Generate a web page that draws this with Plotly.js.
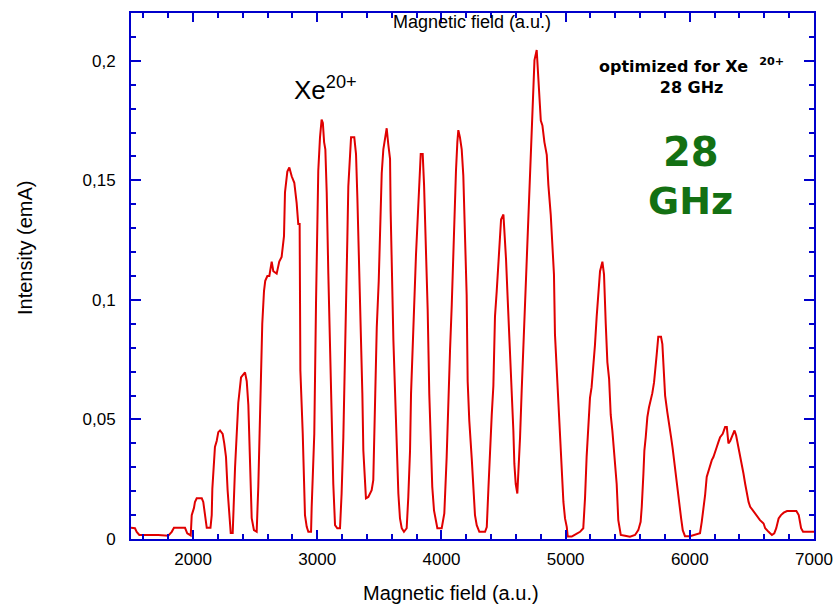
<!DOCTYPE html>
<html>
<head>
<meta charset="utf-8">
<script src="https://cdn.plot.ly/plotly-3.0.1.min.js"></script>
<style>html,body{margin:0;padding:0;background:#fff;}#chart{width:833px;height:613px;}</style>
</head>
<body>
<div id="chart"></div>
<script>
// Magnetic field (a.u.)
var field = [
 1500,1519,1532,1546,1567,1720,1800,1828,1846,1935,1953,1981,1989,2007,2015,2029,2070,2082,2096,2110,
 2140,2150,2155,2168,2176,2190,2203,2217,2238,2251,2265,2278,2291,2303,2319,2324,2338,2364,2378,2386,
 2418,2432,2445,2458,2472,2490,2512,2525,2539,2547,2557,2571,2581,2598,2614,2633,2646,2673,2694,2713,
 2732,2740,2759,2775,2794,2815,2834,2847,2858,2864,2883,2901,2915,2928,2950,2955,2976,2990,3000,3008,
 3022,3035,3045,3055,3065,3076,3089,3103,3116,3129,3143,3161,3183,3196,3210,3223,3231,3242,3250,3264,
 3272,3298,3312,3323,3339,3352,3363,3371,3384,3392,3411,3438,3451,3459,3470,3479,3495,3505,3519,3532,
 3545,3559,3572,3586,3591,3602,3613,3626,3640,3653,3666,3680,3698,3720,3733,3747,3755,3768,3779,3795,
 3814,3822,3833,3849,3860,3873,3889,3902,3913,3926,3940,3956,3967,4002,4023,4042,4055,4069,4083,4096,
 4109,4117,4128,4136,4149,4163,4176,4190,4203,4211,4224,4244,4257,4270,4284,4305,4351,4365,4378,4391,
 4405,4418,4423,4431,4445,4458,4472,4480,4499,4507,4520,4534,4547,4560,4571,4579,4587,4598,4611,4619,
 4633,4646,4660,4668,4679,4695,4706,4719,4733,4741,4749,4767,4775,4786,4800,4813,4829,4848,4861,4880,
 4894,4906,4914,4928,4941,4955,4968,4982,4995,5009,5017,5049,5062,5116,5142,5156,5169,5182,5196,5209,
 5223,5236,5250,5263,5277,5296,5309,5323,5336,5350,5363,5376,5392,5411,5424,5444,5478,5518,5559,5585,
 5604,5613,5626,5634,5645,5658,5671,5685,5698,5712,5720,5733,5746,5768,5779,5787,5801,5819,5836,5849,
 5862,5876,5889,5903,5916,5930,5943,5961,6001,6042,6082,6096,6109,6123,6136,6150,6163,6177,6190,6203,
 6217,6230,6244,6265,6284,6298,6311,6325,6346,6360,6373,6386,6405,6419,6432,6446,6459,6473,6486,6513,
 6540,6565,6594,6607,6634,6661,6680,6696,6715,6734,6756,6783,6858,6877,6896,6912,7000
];
// Intensity (emA)
var intensity = [
 0.0047,0.0047,0.0045,0.003,0.0017,0.0017,0.0014,0.003,0.0047,0.0047,0.0024,0.0015,0.010,0.013,0.0155,0.017,0.017,0.0155,0.010,0.0047,
 0.0047,0.0100,0.021,0.0296,0.0385,0.041,0.0447,0.0454,0.044,0.040,0.0343,0.0204,0.0108,0.0025,0.0025,0.010,0.030,0.057,0.0635,0.0676,
 0.0697,0.066,0.056,0.037,0.0087,0.0037,0.003,0.0218,0.0468,0.0718,0.0899,0.1037,0.108,0.110,0.110,0.116,0.112,0.111,0.116,0.118,
 0.1267,0.145,0.1537,0.1554,0.1517,0.149,0.1405,0.1317,0.1317,0.0704,0.044,0.010,0.0051,0.003,0.003,0.0135,0.044,0.099,0.130,0.154,
 0.168,0.1754,0.174,0.166,0.163,0.145,0.111,0.080,0.0496,0.023,0.0058,0.0045,0.0045,0.019,0.0426,0.0718,0.0954,0.125,0.1475,0.163,
 0.168,0.168,0.161,0.1426,0.112,0.083,0.061,0.037,0.0218,0.017,0.0176,0.0204,0.0246,0.0426,0.0635,0.0885,0.108,0.1315,0.153,0.163,
 0.168,0.1718,0.165,0.159,0.137,0.108,0.083,0.062,0.040,0.019,0.0086,0.0045,0.003,0.0045,0.0176,0.037,0.0607,0.0815,0.100,0.119,
 0.140,0.151,0.161,0.161,0.148,0.1246,0.096,0.0607,0.0426,0.0218,0.012,0.0065,0.0045,0.0045,0.0107,0.0343,0.059,0.0787,0.098,0.123,
 0.140,0.154,0.166,0.171,0.168,0.163,0.152,0.127,0.102,0.066,0.0496,0.0336,0.0204,0.010,0.0058,0.003,0.003,0.005,0.021,0.0385,
 0.052,0.064,0.0787,0.093,0.1037,0.115,0.125,0.1336,0.1357,0.130,0.117,0.0996,0.0843,0.0718,0.058,0.0454,0.0315,0.023,0.019,0.0267,
 0.0426,0.062,0.080,0.096,0.112,0.1287,0.144,0.163,0.178,0.190,0.2003,0.2045,0.198,0.190,0.175,0.173,0.166,0.1607,0.148,0.1357,
 0.1246,0.1107,0.0857,0.071,0.055,0.0378,0.0246,0.0155,0.0086,0.0051,0.001,0.001,0.0014,0.003,0.0045,0.017,0.0343,0.046,0.059,0.0635,
 0.071,0.081,0.093,0.1037,0.112,0.116,0.1107,0.090,0.074,0.067,0.052,0.0454,0.0343,0.023,0.0079,0.0017,0.0014,0.001,0.0017,0.0037,
 0.0072,0.0135,0.027,0.037,0.0426,0.051,0.055,0.058,0.061,0.0655,0.071,0.077,0.0846,0.0846,0.0815,0.074,0.060,0.053,0.048,0.0426,
 0.0378,0.0315,0.026,0.0197,0.0128,0.0086,0.0037,0.0012,0.0012,0.0017,0.0024,0.0072,0.012,0.0183,0.026,0.0287,0.0315,0.033,0.0343,0.036,
 0.0385,0.0405,0.0426,0.044,0.0468,0.0468,0.040,0.041,0.044,0.0454,0.0433,0.040,0.035,0.031,0.0274,0.023,0.019,0.0155,0.0135,0.0114,
 0.0093,0.0079,0.0065,0.0045,0.003,0.0017,0.0024,0.0045,0.0086,0.010,0.011,0.0117,0.0117,0.010,0.0045,0.003,0.003
];

var xTitle = 'Magnetic field (a.u.)';
var yTitle = 'Intensity (emA)';
var ionLabel = 'Xe<sup>20+</sup>';
var noteText = 'optimized for Xe&nbsp; <sup>20+</sup><br>28 GHz';
var bigLine1 = '28';
var bigLine2 = 'GHz';

var axisBlue = '#0000CC';
var font = 'Liberation Sans, Arial, sans-serif';
var green = '#137013';

var trace = {
  x: field, y: intensity, type: 'scatter', mode: 'lines',
  line: {color: '#E00000', width: 2},
  hoverinfo: 'skip'
};

var commonAxis = {
  showgrid: false, zeroline: false, showline: true, linecolor: axisBlue, linewidth: 2,
  mirror: 'allticks', ticks: 'inside', tickcolor: axisBlue, tickwidth: 2,
  tickfont: {family: font, size: 17, color: '#000'}
};

var layout = {
  width: 833, height: 613,
  margin: {l: 131, r: 19, t: 13, b: 74},
  paper_bgcolor: '#fff', plot_bgcolor: '#fff',
  separators: ', ',
  showlegend: false,
  xaxis: Object.assign({}, commonAxis, {
    range: [1500, 7000], dtick: 1000, tick0: 0, ticklen: 9,
    ticklabelstandoff: 4,
    minor: {dtick: 200, tick0: 0, ticks: 'inside', ticklen: 5, tickcolor: axisBlue, tickwidth: 2}
  }),
  yaxis: Object.assign({}, commonAxis, {
    range: [0, 0.2200], dtick: 0.05, tick0: 0, ticklen: 10,
    ticklabelstandoff: 10,
    minor: {dtick: 0.01, tick0: 0, ticks: 'inside', ticklen: 5, tickcolor: axisBlue, tickwidth: 2}
  }),
  annotations: [
    {xref: 'paper', yref: 'paper', x: 0.4685, y: -0.1027, text: xTitle, showarrow: false,
     xanchor: 'center', yanchor: 'middle', font: {family: font, size: 20, color: '#000'}},
    {xref: 'paper', yref: 'paper', x: 0.4993, y: 0.9829, text: xTitle, showarrow: false,
     xanchor: 'center', yanchor: 'middle', font: {family: font, size: 18, color: '#000'}},
    {xref: 'paper', yref: 'paper', x: -0.1552, y: 0.5532, text: yTitle, showarrow: false, textangle: -90,
     xanchor: 'center', yanchor: 'middle', font: {family: font, size: 20, color: '#000'}},
    {xref: 'x', yref: 'y', x: 2800, y: 0.1805, text: ionLabel, showarrow: false,
     xanchor: 'left', yanchor: 'bottom', font: {family: font, size: 26, color: '#000'}},
    {xref: 'x', yref: 'y', x: 6010, y: 0.1937, text: noteText, showarrow: false, align: 'center',
     xanchor: 'center', yanchor: 'middle', font: {family: 'DejaVu Sans, sans-serif', size: 16, color: '#000', weight: 'bold'}},
    {xref: 'x', yref: 'y', x: 6010, y: 0.1617, text: bigLine1, showarrow: false,
     xanchor: 'center', yanchor: 'middle', font: {family: 'DejaVu Sans, sans-serif', size: 40, color: green, weight: 'bold'}},
    {xref: 'x', yref: 'y', x: 6002, y: 0.1413, text: bigLine2, showarrow: false,
     xanchor: 'center', yanchor: 'middle', font: {family: 'DejaVu Sans, sans-serif', size: 38, color: green, weight: 'bold'}}
  ]
};

Plotly.newPlot('chart', [trace], layout, {displayModeBar: false, staticPlot: true});
</script>
</body>
</html>
